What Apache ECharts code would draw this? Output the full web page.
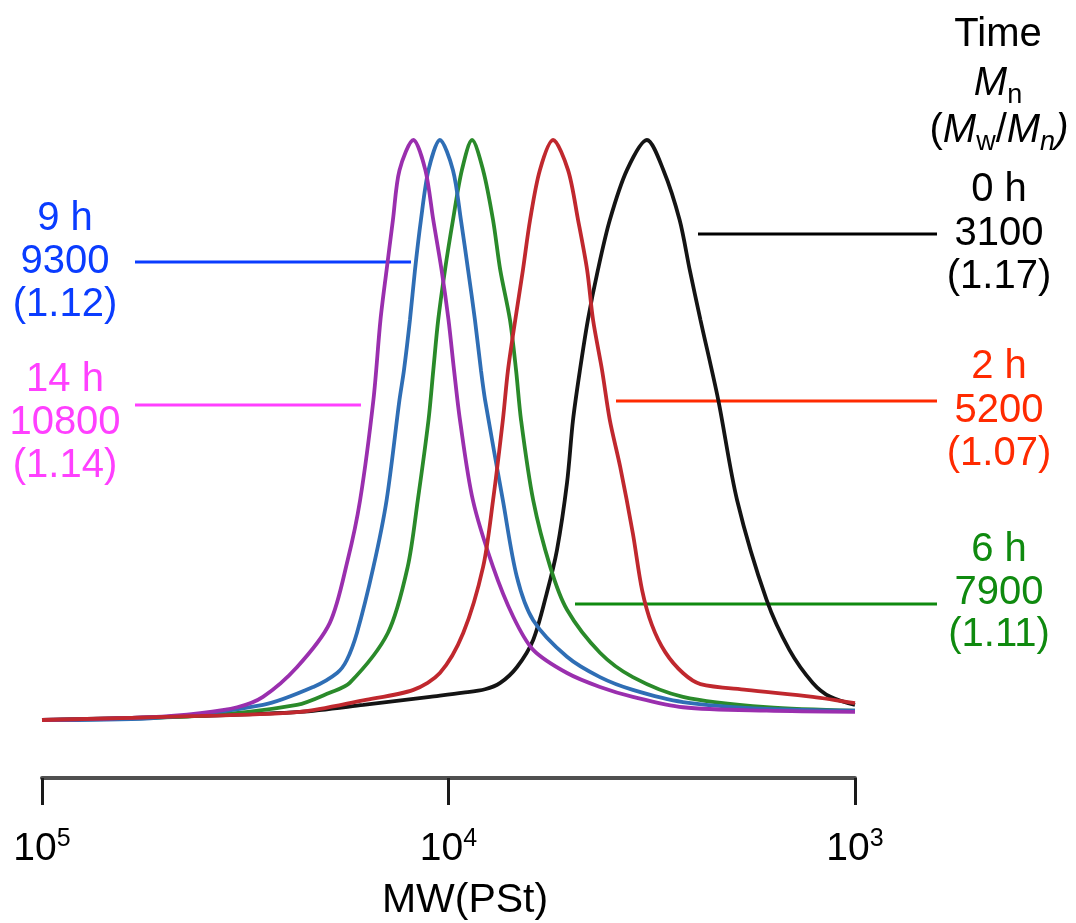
<!DOCTYPE html>
<html><head><meta charset="utf-8">
<script src="https://cdn.jsdelivr.net/npm/echarts@6/dist/echarts.min.js"></script>
<style>html,body{margin:0;padding:0;background:#fff}#c{width:1076px;height:923px}</style>
</head><body><div id="c"></div>
<script>
// ---- data: [molecular weight (PSt equiv.), normalized RI intensity] ----
const curve0h = [[100000,0],[40800,0.007],[23200,0.014],[16200,0.026],[11100,0.040],[9200,0.047],[8130,0.053],[7460,0.064],[6790,0.091],[6190,0.138],[5730,0.219],[5410,0.293],[5110,0.409],[4940,0.517],[4750,0.603],[4540,0.690],[4290,0.776],[4010,0.862],[3640,0.948],[3250,1.0],[2960,0.948],[2700,0.862],[2550,0.776],[2400,0.690],[2170,0.552],[1950,0.379],[1650,0.207],[1450,0.121],[1270,0.064],[1150,0.040],[1000,0.026]];
const curve2h = [[100000,0],[40800,0.007],[23200,0.014],[16200,0.034],[12200,0.052],[10500,0.081],[9200,0.150],[8220,0.264],[7770,0.379],[7350,0.517],[7140,0.603],[6850,0.690],[6560,0.776],[6300,0.862],[5960,0.948],[5530,1.0],[5080,0.948],[4800,0.862],[4560,0.776],[4410,0.690],[4190,0.603],[4010,0.517],[3780,0.436],[3520,0.322],[3340,0.224],[3160,0.164],[2930,0.117],[2650,0.081],[2400,0.062],[1850,0.052],[1270,0.040],[1000,0.029]];
const curve6h = [[100000,0],[40800,0.007],[23600,0.026],[19600,0.047],[17500,0.064],[14100,0.150],[12600,0.264],[11900,0.379],[11200,0.517],[10900,0.603],[10600,0.690],[10200,0.776],[9750,0.862],[9270,0.948],[8750,1.0],[8220,0.948],[7770,0.862],[7460,0.776],[7060,0.690],[6820,0.603],[6630,0.517],[6190,0.379],[5620,0.264],[5110,0.190],[4240,0.116],[3520,0.074],[2650,0.040],[1650,0.022],[1000,0.016]];
const curve9h = [[100000,0],[54200,0.003],[28600,0.026],[21500,0.057],[18800,0.081],[17800,0.103],[16800,0.150],[15300,0.264],[14200,0.379],[13200,0.552],[12870,0.603],[12440,0.690],[12090,0.776],[11690,0.862],[11200,0.948],[10500,1.0],[9750,0.948],[9320,0.862],[8950,0.776],[8610,0.690],[8320,0.603],[8130,0.552],[7350,0.379],[6790,0.247],[6190,0.172],[5110,0.109],[4240,0.074],[3520,0.052],[2650,0.031],[1650,0.019],[1000,0.016]];
const curve14h = [[100000,0],[54200,0.005],[40800,0.012],[33100,0.022],[28600,0.040],[23600,0.091],[19600,0.167],[17700,0.276],[16500,0.379],[15300,0.552],[14700,0.690],[14200,0.776],[13700,0.862],[13200,0.948],[12200,1.0],[11400,0.948],[10900,0.862],[10400,0.776],[10000,0.690],[9690,0.603],[9370,0.517],[8710,0.379],[7770,0.264],[6930,0.178],[6190,0.121],[5110,0.081],[4240,0.057],[3520,0.040],[2650,0.022],[1650,0.016],[1000,0.014]];

const timeLabels = ['0 h','2 h','6 h','9 h','14 h'];
const mnValues = ['3100','5200','7900','9300','10800'];
const pdiValues = ['1.17','1.07','1.11','1.12','1.14'];
const xTicks = [100000, 10000, 1000];
const xAxisTitle = 'MW(PSt)';

// ---- styling / layout ----
const curveColors = ['#141414','#c0282e','#2a8a2a','#2f6eb5','#9a2fae'];
const labelColors = ['#000000','#ff2a00','#0f8a0f','#0a3cff','#ff40ff'];
const FONT = '"Liberation Sans", Arial, Helvetica, sans-serif';
const FS = 40;
// per label block: text centre x, first line y, line spacing, pointer line y, x1, x2
const labelLayout = [
  {cx: 999, y: 190, dy: 43.5, ly: 234, x1: 698, x2: 937},
  {cx: 999, y: 367, dy: 43.5, ly: 401, x1: 616, x2: 937},
  {cx: 999, y: 550, dy: 42.5, ly: 604, x1: 575, x2: 937},
  {cx: 65, y: 219, dy: 43, ly: 262, x1: 135, x2: 411},
  {cx: 65, y: 380, dy: 43, ly: 405, x1: 135, x2: 361}
];

const curves = [curve0h, curve2h, curve6h, curve9h, curve14h];
const drawOrder = [0, 2, 3, 4, 1];

const series = drawOrder.map(i => ({
  type: 'line', name: timeLabels[i], data: curves[i],
  showSymbol: false, smooth: 0.3,
  lineStyle: {color: curveColors[i], width: 3.8},
  itemStyle: {color: curveColors[i]}, silent: true, z: 2
}));

const graphic = [];
labelLayout.forEach((L, i) => {
  const lines = [timeLabels[i], mnValues[i], '(' + pdiValues[i] + ')'];
  lines.forEach((t, k) => graphic.push({
    type: 'text', silent: true,
    style: {text: t, x: L.cx, y: L.y + k * L.dy, fill: labelColors[i],
      font: FS + 'px ' + FONT, align: 'center', verticalAlign: 'middle'}
  }));
  graphic.push({type: 'line', silent: true,
    shape: {x1: L.x1, y1: L.ly, x2: L.x2, y2: L.ly},
    style: {stroke: labelColors[i], lineWidth: 3}});
});
// header of right column
graphic.push({type: 'text', silent: true,
  style: {text: 'Time', x: 998, y: 35, fill: '#000', font: FS + 'px ' + FONT, align: 'center', verticalAlign: 'middle'}});
graphic.push({type: 'text', silent: true,
  style: {text: '{m|M}{s|n}', x: 998, y: 84, fill: '#000', align: 'center', verticalAlign: 'middle',
    rich: {m: {fontFamily: FONT, fontSize: FS, fontStyle: 'italic', lineHeight: 50, fill: '#000'},
           s: {fontFamily: FONT, fontSize: 27, lineHeight: 27, verticalAlign: 'bottom', fill: '#000'}}}});
graphic.push({type: 'text', silent: true,
  style: {text: '{p|(}{m|M}{s|w}{p|/}{m|M}{si|n}{pi|)}', x: 999, y: 131, fill: '#000', align: 'center', verticalAlign: 'middle',
    rich: {p: {fontFamily: FONT, fontSize: FS, lineHeight: 50, fill: '#000'},
           pi: {fontFamily: FONT, fontSize: FS, fontStyle: 'italic', lineHeight: 50, fill: '#000'},
           m: {fontFamily: FONT, fontSize: FS, fontStyle: 'italic', lineHeight: 50, fill: '#000'},
           s: {fontFamily: FONT, fontSize: 27, lineHeight: 27, verticalAlign: 'bottom', fill: '#000'},
           si: {fontFamily: FONT, fontSize: 27, fontStyle: 'italic', lineHeight: 27, verticalAlign: 'bottom', fill: '#000'}}}});
graphic.push({type: 'text', silent: true,
  style: {text: xAxisTitle, x: 465, y: 901, fill: '#000', font: '41px ' + FONT, align: 'center', verticalAlign: 'middle'}});

const chart = echarts.init(document.getElementById('c'), null, {renderer: 'canvas'});
chart.setOption({
  animation: false,
  backgroundColor: '#ffffff',
  grid: {left: 42, right: 221, top: 140, bottom: 145, containLabel: false},
  xAxis: {
    type: 'log', logBase: 10, min: xTicks[2], max: xTicks[0], inverse: true,
    splitLine: {show: false}, minorTick: {show: false},
    axisLine: {show: true, onZero: false, lineStyle: {color: '#505050', width: 4}},
    axisTick: {show: true, length: 27, lineStyle: {color: '#1a1a1a', width: 3}},
    axisLabel: {
      show: true, margin: 49, showMinLabel: true, showMaxLabel: true,
      formatter: v => '{b|10}{e|' + Math.round(Math.log10(v)) + '}',
      rich: {b: {fontFamily: FONT, fontSize: 39, color: '#000', lineHeight: 44},
             e: {fontFamily: FONT, fontSize: 25, color: '#000', verticalAlign: 'top', lineHeight: 25}}
    }
  },
  yAxis: {type: 'value', min: -0.1, max: 1.0, show: false, splitLine: {show: false}},
  series: series,
  graphic: graphic
});
</script></body></html>
